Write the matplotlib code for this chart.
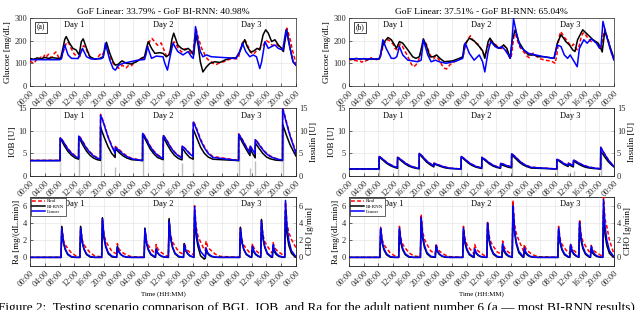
import matplotlib
matplotlib.use("Agg")
import matplotlib.pyplot as plt
import numpy as np

# ---------------- data (hours from start of simulation) ----------------
hour_ticks = list(range(0, 73, 4))
time_labels = ["00:00", "04:00", "08:00", "12:00", "16:00", "20:00",
               "00:00", "04:00", "08:00", "12:00", "16:00", "20:00",
               "00:00", "04:00", "08:00", "12:00", "16:00", "20:00", "00:00"]
titles = ["GoF Linear: 33.79% - GoF BI-RNN: 40.98%",
          "GoF Linear: 37.51% - GoF BI-RNN: 65.04%"]
panel_tags = ["(a)", "(b)"]
day_names = ["Day 1", "Day 2", "Day 3"]
day_pos = [12, 36, 60]

# Glucose (t [h], mg/dL)
gl_a_real = [(0,112),(0.5,105),(1,100),(1.5,110),(2,122),(2.5,118),(3,128),(3.5,122),(4,138),(4.5,130),(5,140),(5.5,125),(6,128),(6.5,142),(7,150),(7.5,135),(8,120),(8.5,125),(9,150),(9.5,175),(10,195),(10.5,190),(11,170),(11.5,155),(12,140),(12.5,135),(13,128),(13.5,130),(14,160),(14.5,178),(15,170),(15.5,150),(16,135),(16.5,125),(17,118),(18,120),(18.5,130),(19,140),(19.5,135),(20,150),(20.5,185),(21,160),(21.5,130),(22,115),(22.5,100),(23,92),(23.5,85),(24,78),(24.5,85),(25,92),(25.5,85),(26,80),(26.5,88),(27,92),(27.5,90),(28,100),(29,110),(30,118),(31,125),(31.5,150),(32,180),(32.5,200),(33,210),(33.5,200),(34,190),(34.5,180),(35,185),(35.5,190),(36,170),(36.5,150),(37,130),(37.5,135),(38,160),(38.5,185),(39,195),(39.5,185),(40,170),(40.5,160),(41,150),(41.5,155),(42,165),(42.5,160),(43,155),(43.5,145),(44,138),(44.5,200),(45,250),(45.5,215),(46,190),(46.5,165),(47,150),(47.5,130),(48,120),(48.5,112),(49,108),(49.5,100),(50,98),(50.5,95),(51,100),(52,105),(53,110),(54,118),(55,120),(56,120),(56.5,130),(57,165),(57.5,190),(58,205),(58.5,195),(59,175),(59.5,160),(60,145),(60.5,140),(61,150),(61.5,160),(62,165),(62.5,170),(63,175),(63.5,190),(64,200),(64.5,195),(65,190),(65.5,180),(66,180),(66.5,185),(67,180),(67.5,175),(68,170),(68.5,155),(69,200),(69.5,255),(70,230),(70.5,200),(71,160),(71.5,130),(72,100)]
gl_a_birnn = [(0,121),(1,118),(2,124),(3,120),(4,126),(5,122),(6,125),(7,123),(8.3,121),(8.9,165),(9.4,205),(9.8,218),(10.7,189),(11.6,166),(12.5,159),(13.3,137),(13.9,196),(14.4,208),(15.3,166),(16.2,129),(17.5,119),(18.9,122),(19.8,129),(20.7,193),(21.6,144),(22.5,107),(23.1,92),(23.8,95),(24.9,111),(26.1,100),(27.4,97),(28.8,107),(30.1,122),(31.0,129),(31.5,165),(32.0,196),(32.9,166),(33.8,144),(35.1,147),(36.0,144),(36.9,129),(37.8,140),(38.4,205),(38.9,233),(40.0,181),(41.0,166),(41.9,159),(42.8,166),(43.7,152),(44.3,137),(44.9,226),(45.5,181),(46.1,107),(46.8,62),(47.8,85),(48.7,100),(50.0,107),(51.4,104),(52.7,114),(54.0,122),(55.8,125),(56.8,152),(57.7,189),(58.1,204),(58.8,174),(59.7,149),(60.6,155),(61.5,166),(62.2,159),(63.1,226),(63.8,248),(64.5,233),(65.4,196),(66.3,204),(67.2,181),(68.1,166),(68.6,152),(69.0,200),(69.5,248),(70.4,166),(71.2,107),(72,92)]
gl_a_linear = [(0,116),(4,116),(8,116),(8.5,120),(8.9,150),(9.4,181),(10.3,137),(11.2,122),(13.0,121),(13.6,140),(14.2,166),(15.3,129),(16.6,119),(19.2,120),(19.8,125),(20.4,189),(21.6,114),(22.5,77),(23.1,70),(24.0,92),(25.2,100),(29.2,114),(31.0,117),(31.4,140),(31.8,174),(32.9,122),(34.2,132),(36.0,129),(36.5,100),(37.2,70),(37.8,120),(38.7,189),(40.0,152),(41.4,137),(42.8,152),(43.7,129),(44.2,122),(44.8,262),(45.5,196),(46.1,152),(46.8,129),(47.8,137),(49.1,129),(55.8,122),(56.8,152),(57.5,189),(58.4,152),(59.5,129),(60.4,137),(61.3,129),(62.2,77),(62.7,107),(63.6,196),(64.5,166),(65.4,174),(66.3,181),(67.2,166),(68.4,159),(69.3,248),(70.4,166),(71.2,107),(72,92)]

gl_b_real = [(0,118),(0.5,115),(1,120),(1.5,113),(2,112),(2.5,108),(3,110),(3.5,105),(4,112),(4.5,110),(5,115),(5.5,120),(6,125),(6.5,118),(7,115),(8,118),(8.5,125),(9,160),(9.5,185),(10,198),(10.5,205),(11,200),(11.5,192),(12,185),(12.5,165),(13,160),(13.5,175),(14,185),(14.5,175),(15,160),(15.5,145),(16,130),(16.5,110),(17,95),(17.5,85),(18,90),(18.5,100),(19,118),(19.5,150),(20,190),(20.5,200),(21,185),(21.5,160),(22,140),(22.5,125),(23,120),(23.5,132),(24,125),(24.5,115),(25,100),(25.5,85),(26,78),(26.5,75),(27,85),(27.5,95),(28,100),(29,110),(30,118),(31,130),(31.5,170),(32,195),(32.5,210),(33,222),(33.5,205),(34,198),(34.5,190),(35,185),(35.5,175),(36,160),(36.5,145),(37,135),(37.5,160),(38,190),(38.5,200),(39,195),(39.5,185),(40,180),(40.5,175),(41,168),(41.5,165),(42,180),(42.5,172),(43,150),(43.5,130),(44,120),(44.5,180),(45,245),(45.5,215),(46,190),(46.5,170),(47,160),(47.5,150),(48,140),(48.5,130),(49,125),(49.5,135),(50,145),(50.5,140),(51,130),(52,120),(53,115),(54,112),(55,110),(55.5,105),(56,100),(56.5,140),(57,210),(57.5,240),(58,228),(58.5,215),(59,205),(59.5,195),(60,180),(60.5,175),(61,185),(61.5,170),(62,160),(62.5,175),(63,210),(63.5,232),(64,235),(64.5,220),(65,210),(65.5,200),(66,195),(66.5,198),(67,195),(67.5,185),(68,170),(68.5,160),(69,215),(69.5,250),(70,225),(70.5,200),(71,165),(71.5,135),(72,115)]
gl_b_birnn = [(0,120),(1,117),(2,122),(3,118),(4,121),(5,116),(6,120),(7,118),(8.3,120),(9.0,170),(9.6,195),(10.6,214),(11.5,204),(12.4,181),(12.9,166),(13.7,196),(14.6,189),(16.0,159),(17.3,129),(18.2,122),(19.1,129),(19.6,160),(20.2,208),(21.1,174),(22.0,129),(22.9,129),(23.8,137),(24.7,122),(25.9,107),(28.2,111),(30.0,122),(30.9,129),(31.3,181),(32.7,211),(34.0,199),(35.4,174),(36.3,155),(36.9,122),(37.8,196),(38.3,211),(39.2,189),(40.1,174),(41.0,166),(42.0,181),(42.9,166),(43.8,122),(44.3,200),(45.2,248),(46.1,196),(47.5,159),(48.8,137),(50.2,137),(51.6,129),(53.0,129),(55.7,122),(56.6,189),(57.6,226),(58.3,211),(58.9,196),(59.9,181),(60.8,159),(61.4,152),(62.1,204),(63.5,248),(64.9,226),(66.3,204),(67.7,189),(68.4,166),(68.8,150),(69.5,244),(70.9,174),(72,122)]
gl_b_linear = [(0,120),(4,120),(8,119),(8.5,130),(9.2,204),(10.1,166),(11.5,122),(12.4,122),(13.0,130),(13.7,174),(14.6,137),(16.0,114),(18.7,107),(19.6,114),(20.2,204),(21.4,137),(22.3,107),(23.5,114),(24.5,107),(26.4,100),(29.1,110),(30.9,122),(31.6,189),(32.7,144),(34.0,114),(35.4,137),(36.3,107),(36.5,92),(36.9,62),(37.8,152),(38.5,196),(39.7,174),(40.6,166),(41.5,174),(42.4,159),(43.3,137),(43.8,122),(44.2,180),(44.7,297),(45.6,226),(46.5,174),(47.5,159),(48.8,144),(50.7,137),(53.0,129),(55.7,122),(56.6,181),(57.6,174),(58.5,137),(59.4,122),(60.1,137),(61.2,107),(62.0,85),(62.6,166),(63.8,204),(64.7,189),(65.8,208),(67.2,189),(68.1,166),(68.5,180),(69.0,285),(69.9,226),(70.9,166),(72,114)]

# IOB [U] on a shared time grid
t_iob = [0,
 8.15, 8.2, 8.7, 9.2, 10.2, 11.2, 12.2, 13.15,
 13.2, 13.7, 14.2, 15.2, 16.2, 17.2, 18.2, 19.05,
 19.1, 19.6, 20.1, 21.1, 22.1, 23.05,
 23.1, 23.6, 24.1, 25.1, 26.1, 27.5, 30.45,
 30.5, 31.0, 31.5, 32.5, 33.5, 34.5, 36.05,
 36.1, 36.6, 37.1, 38.1, 39.1, 40.1, 41.15,
 41.2, 41.7, 42.2, 43.2, 44.15,
 44.2, 44.7, 45.2, 46.2, 47.2, 48.2, 49.5, 56.45,
 56.5, 57.0, 57.5, 58.5, 59.55,
 59.6, 60.1, 60.95,
 61.0, 61.5, 62.0, 63.0, 64.0, 65.0, 66.5, 68.35,
 68.4, 68.9, 69.4, 70.4, 71.4, 72]
iob_a_real = [3.45,
 3.45, 8.5, 8.0, 7.4, 6.1, 5.2, 4.5, 4.0,
 8.9, 8.4, 7.75, 6.35, 5.35, 4.55, 4.05, 3.8,
 13.6, 12.6, 11.4, 8.8, 6.8, 5.1,
 6.5, 6.2, 5.85, 5.1, 4.5, 3.9, 3.45,
 9.5, 8.9, 8.25, 6.65, 5.55, 4.7, 3.95,
 9.0, 8.45, 7.85, 6.4, 5.35, 4.6, 4.1,
 6.7, 6.3, 5.95, 5.05, 4.45,
 12.1, 11.3, 10.3, 8.1, 6.5, 5.2, 4.3, 3.45,
 9.3, 8.7, 8.05, 6.55, 5.2,
 6.7, 6.0, 5.0,
 8.1, 7.6, 7.05, 5.95, 5.05, 4.45, 3.9, 3.5,
 15.0, 13.6, 12.0, 9.1, 6.7, 5.3]
iob_a_birnn = [3.4,
 3.4, 8.3, 7.6, 6.8, 5.5, 4.6, 4.0, 3.7,
 8.6, 7.8, 7.0, 5.6, 4.6, 3.95, 3.6, 3.45,
 10.8, 9.6, 8.5, 6.5, 5.0, 4.1,
 6.0, 5.6, 5.2, 4.5, 4.0, 3.6, 3.4,
 9.2, 8.4, 7.6, 6.0, 4.9, 4.1, 3.6,
 8.6, 7.8, 7.0, 5.6, 4.55, 3.9, 3.55,
 6.1, 5.6, 5.0, 4.1, 3.7,
 10.3, 9.3, 8.3, 6.3, 5.0, 4.2, 3.7, 3.4,
 9.0, 8.2, 7.4, 5.9, 4.5,
 6.1, 5.2, 4.0,
 7.3, 6.7, 6.1, 5.0, 4.2, 3.8, 3.5, 3.4,
 11.3, 10.2, 9.0, 6.9, 5.3, 4.4]
iob_a_linear = [3.4,
 3.4, 8.4, 7.9, 7.3, 6.0, 5.05, 4.35, 3.9,
 8.8, 8.26, 7.6, 6.2, 5.2, 4.4, 3.95, 3.7,
 13.4, 12.4, 11.2, 8.6, 6.6, 5.0,
 6.3, 6.0, 5.65, 4.9, 4.35, 3.8, 3.4,
 9.4, 8.8, 8.1, 6.5, 5.4, 4.55, 3.85,
 8.9, 8.35, 7.7, 6.25, 5.2, 4.45, 3.95,
 6.6, 6.2, 5.8, 4.9, 4.3,
 11.9, 11.05, 10.0, 7.8, 6.2, 5.0, 4.1, 3.4,
 9.2, 8.6, 7.9, 6.4, 5.1,
 6.6, 5.9, 4.9,
 8.0, 7.5, 6.9, 5.8, 4.9, 4.3, 3.8, 3.5,
 14.8, 13.3, 11.7, 8.8, 6.4, 5.0]
iob_b_real = [1.55,
 1.55, 4.35, 4.05, 3.75, 3.05, 2.55, 2.15, 1.9,
 4.15, 3.9, 3.6, 2.95, 2.45, 2.1, 1.85, 1.7,
 5.05, 4.65, 4.25, 3.35, 2.75, 2.25,
 2.85, 2.7, 2.55, 2.25, 2.0, 1.75, 1.55,
 4.35, 4.05, 3.75, 3.05, 2.55, 2.15, 1.8,
 4.15, 3.9, 3.6, 2.95, 2.45, 2.1, 1.85,
 2.85, 2.7, 2.55, 2.25, 2.05,
 4.95, 4.6, 4.25, 3.45, 2.8, 2.35, 1.95, 1.55,
 3.75, 3.55, 3.3, 2.75, 2.35,
 2.85, 2.65, 2.35,
 3.55, 3.35, 3.1, 2.65, 2.3, 2.05, 1.8, 1.6,
 6.35, 5.65, 4.95, 3.65, 2.65, 2.15]
iob_b_birnn = [1.55,
 1.55, 4.2, 3.85, 3.5, 2.8, 2.3, 1.95, 1.7,
 4.0, 3.7, 3.35, 2.7, 2.2, 1.9, 1.7, 1.6,
 4.85, 4.4, 3.95, 3.05, 2.45, 2.0,
 2.7, 2.5, 2.35, 2.05, 1.8, 1.65, 1.55,
 4.2, 3.85, 3.5, 2.8, 2.3, 1.95, 1.65,
 4.0, 3.7, 3.35, 2.7, 2.2, 1.9, 1.7,
 2.6, 2.4, 2.25, 1.95, 1.8,
 4.7, 4.3, 3.9, 3.1, 2.5, 2.1, 1.75, 1.55,
 3.6, 3.35, 3.05, 2.5, 2.1,
 2.6, 2.35, 2.0,
 3.3, 3.05, 2.8, 2.35, 2.0, 1.8, 1.65, 1.55,
 5.4, 4.9, 4.3, 3.2, 2.4, 2.0]
iob_b_linear = [1.55,
 1.55, 4.3, 4.0, 3.7, 3.0, 2.5, 2.1, 1.85,
 4.1, 3.85, 3.55, 2.9, 2.4, 2.05, 1.8, 1.65,
 5.0, 4.6, 4.2, 3.3, 2.7, 2.2,
 2.8, 2.65, 2.5, 2.2, 1.95, 1.7, 1.55,
 4.3, 4.0, 3.7, 3.0, 2.5, 2.1, 1.75,
 4.1, 3.85, 3.55, 2.9, 2.4, 2.05, 1.8,
 2.8, 2.65, 2.5, 2.2, 2.0,
 4.9, 4.55, 4.2, 3.4, 2.75, 2.3, 1.9, 1.55,
 3.7, 3.5, 3.25, 2.7, 2.3,
 2.8, 2.6, 2.3,
 3.5, 3.3, 3.05, 2.6, 2.25, 2.0, 1.75, 1.6,
 6.3, 5.6, 4.9, 3.6, 2.6, 2.1]

# Insulin boluses [U] (right axis)
bolus_t = [8.2, 13.2, 19.1, 23.1, 30.5, 36.1, 41.2, 44.2, 56.5, 59.6, 61.0, 68.4]
bolus_a = [5.0, 5.0, 9.8, 2.0, 6.0, 5.1, 2.9, 8.0, 5.8, 1.8, 3.2, 11.4]
bolus_b = [2.75, 2.45, 3.35, 0.85, 2.75, 2.35, 1.0, 2.9, 2.15, 0.7, 1.2, 4.7]

# Ra [mg/(dL.min)] on a shared time grid
t_ra = [0,
 8.4, 8.6, 9.0, 9.5, 10.2, 11.2, 12.4,
 13.5, 13.7, 14.1, 14.6, 15.3, 16.3, 17.5,
 19.4, 19.6, 20.0, 20.5, 21.2, 22.2,
 23.45, 23.65, 24.05, 24.55, 25.25, 26.25, 27.45,
 30.9, 31.1, 31.5, 32.0, 32.7, 33.7,
 33.95, 34.15, 34.55, 35.05, 35.75, 36.75,
 37.45, 37.65, 38.05, 38.55, 39.25, 40.25,
 41.55, 41.75, 42.15, 42.65, 43.35, 44.3,
 44.35, 44.55, 44.95, 45.45, 46.15, 47.15,
 47.45, 47.65, 48.05, 48.55, 49.25, 50.25, 51.45,
 56.75, 56.95, 57.35, 57.85, 58.55, 59.55,
 60.0, 60.2, 60.6, 61.1, 61.8, 62.4,
 62.45, 62.65, 63.05, 63.55, 64.25, 65.25,
 65.6, 65.8, 66.2, 66.7, 67.4, 68.4,
 68.95, 69.15, 69.55, 70.05, 70.75, 71.75, 72]
ra_a_real = [0,
 0, 3.5, 2.1, 1.47, 1.05, 0.53, 0.18,
 0.05, 3.5, 2.1, 1.47, 1.05, 0.53, 0.18,
 0.05, 4.5, 2.7, 1.9, 1.35, 0.68,
 0.4, 1.6, 1.0, 0.75, 0.5, 0.25, 0.08,
 0, 3.3, 2.0, 1.4, 1.0, 0.5,
 0.4, 1.5, 1.0, 0.75, 0.5, 0.22,
 0.1, 4.3, 2.6, 1.8, 1.3, 0.65,
 0.35, 1.7, 1.1, 0.8, 0.55, 0.3,
 0.3, 6.0, 3.6, 2.5, 1.8, 0.9,
 0.8, 1.9, 1.3, 1.0, 0.7, 0.35, 0.12,
 0, 3.4, 2.05, 1.43, 1.02, 0.5,
 0.45, 1.6, 1.1, 0.8, 0.55, 0.35,
 0.35, 4.3, 2.6, 1.8, 1.3, 0.65,
 0.5, 1.7, 1.15, 0.85, 0.6, 0.3,
 0.15, 6.4, 3.9, 2.9, 2.1, 1.3, 1.15]
ra_a_birnn = [0,
 0, 3.6, 1.8, 0.94, 0.32, 0.04, 0,
 0, 3.6, 1.8, 0.94, 0.32, 0.04, 0,
 0, 4.6, 2.3, 1.2, 0.41, 0.05,
 0, 1.3, 0.65, 0.34, 0.12, 0.01, 0,
 0, 3.4, 1.7, 0.88, 0.31, 0.03,
 0, 1.0, 0.5, 0.26, 0.09, 0.01,
 0, 4.5, 2.25, 1.17, 0.41, 0.05,
 0, 1.6, 0.8, 0.42, 0.14, 0.02,
 0, 5.0, 2.5, 1.3, 0.2, -0.2,
 -0.1, 0.9, 0.45, 0.23, 0.08, 0.01, 0,
 0, 3.5, 1.75, 0.91, 0.32, 0.04,
 0, 1.2, 0.6, 0.31, 0.11, 0.02,
 0, 4.4, 2.2, 1.14, 0.4, 0.04,
 0, 1.2, 0.6, 0.31, 0.11, 0.01,
 0, 5.4, 2.7, 1.4, 0.49, 0.05, 0.02]
ra_a_linear = [0,
 0, 3.4, 1.87, 1.02, 0.41, 0.1, 0,
 0, 3.4, 1.87, 1.02, 0.41, 0.1, 0,
 0, 4.5, 2.48, 1.35, 0.54, 0.14,
 0.02, 1.2, 0.66, 0.36, 0.14, 0.04, 0,
 0, 3.3, 1.82, 0.99, 0.4, 0.1,
 0.05, 1.0, 0.55, 0.3, 0.12, 0.03,
 0, 4.2, 2.31, 1.26, 0.5, 0.13,
 0, 1.5, 0.83, 0.45, 0.18, 0.05,
 0.02, 5.9, 3.25, 1.77, 0.71, 0.18,
 0.05, 1.1, 0.6, 0.33, 0.13, 0.03, 0,
 0, 3.3, 1.82, 0.99, 0.4, 0.1,
 0.05, 1.3, 0.72, 0.39, 0.16, 0.06,
 0.06, 4.2, 2.31, 1.26, 0.5, 0.13,
 0.05, 1.5, 0.83, 0.45, 0.18, 0.05,
 0.03, 6.6, 3.63, 1.98, 0.79, 0.2, 0.1]
ra_b_real = [0,
 0, 3.5, 2.1, 1.47, 1.05, 0.53, 0.18,
 0.05, 3.6, 2.16, 1.51, 1.08, 0.54, 0.18,
 0.05, 5.0, 3.0, 2.1, 1.5, 0.75,
 0.4, 1.6, 1.0, 0.75, 0.5, 0.25, 0.08,
 0, 3.6, 2.16, 1.51, 1.08, 0.54,
 0.35, 1.5, 1.0, 0.75, 0.5, 0.22,
 0.1, 4.2, 2.52, 1.76, 1.26, 0.63,
 0.35, 1.9, 1.2, 0.85, 0.6, 0.3,
 0.3, 6.6, 3.96, 2.77, 1.98, 0.99,
 0.7, 1.5, 1.0, 0.75, 0.5, 0.25, 0.08,
 0, 3.6, 2.16, 1.51, 1.08, 0.54,
 0.45, 1.6, 1.1, 0.8, 0.55, 0.35,
 0.35, 4.4, 2.64, 1.85, 1.32, 0.66,
 0.5, 1.4, 0.95, 0.7, 0.5, 0.25,
 0.1, 7.3, 4.4, 3.6, 2.0, 0.7, 0.4]
ra_b_birnn = [0,
 0, 3.3, 1.65, 0.86, 0.3, 0.03, 0,
 0, 3.3, 1.65, 0.86, 0.3, 0.03, 0,
 0, 4.5, 2.25, 1.17, 0.41, 0.05,
 0, 1.3, 0.65, 0.34, 0.12, 0.01, 0,
 0, 3.3, 1.65, 0.86, 0.3, 0.03,
 0, 0.9, 0.45, 0.23, 0.08, 0.01,
 0, 3.9, 1.95, 1.01, 0.35, 0.04,
 0, 1.3, 0.65, 0.34, 0.12, 0.01,
 0, 5.9, 2.95, 1.53, 0.53, 0.06,
 0, 0.9, 0.45, 0.23, 0.08, 0.01, 0,
 0, 3.3, 1.65, 0.86, 0.3, 0.03,
 0, 1.3, 0.65, 0.34, 0.12, 0.02,
 0, 3.9, 1.95, 1.01, 0.35, 0.04,
 0, 1.0, 0.5, 0.26, 0.09, 0.01,
 0, 5.3, 2.65, 1.38, 0.48, 0.05, 0.02]
ra_b_linear = [0,
 0, 3.4, 1.87, 1.02, 0.41, 0.1, 0,
 0, 3.4, 1.87, 1.02, 0.41, 0.1, 0,
 0, 4.65, 2.56, 1.4, 0.56, 0.14,
 0.02, 1.4, 0.77, 0.42, 0.17, 0.04, 0,
 0, 3.4, 1.87, 1.02, 0.41, 0.1,
 0.02, 1.0, 0.55, 0.3, 0.12, 0.03,
 0, 4.0, 2.2, 1.2, 0.48, 0.12,
 0.01, 1.6, 0.88, 0.48, 0.19, 0.05,
 0.02, 6.0, 3.3, 1.8, 0.72, 0.18,
 0.05, 1.1, 0.6, 0.33, 0.13, 0.03, 0,
 0, 3.4, 1.87, 1.02, 0.41, 0.1,
 0.05, 1.5, 0.83, 0.45, 0.18, 0.06,
 0.06, 4.1, 2.26, 1.23, 0.49, 0.12,
 0.04, 1.3, 0.72, 0.39, 0.16, 0.04,
 0.02, 6.7, 3.69, 2.01, 0.8, 0.2, 0.1]

# ---------------- style ----------------
plt.rcParams['font.family'] = ['Liberation Serif', 'DejaVu Serif']
plt.rcParams['axes.linewidth'] = 0.5
RED, BLACK, BLUE = '#ff0000', '#000000', '#0000ff'
SPINE = '#262626'
GRID = '#e6e6e6'

fig = plt.figure(figsize=(6.4, 3.1), dpi=100)
W, H = 640.0, 310.0
cols = [(30, 296), (349, 614)]
rows = {'glu': (18, 86), 'iob': (108, 176), 'ra': (197, 266)}


def new_ax(col, row):
    x0, x1 = cols[col]
    yt, yb = rows[row]
    return fig.add_axes([x0 / W, 1 - yb / H, (x1 - x0) / W, (yb - yt) / H])


def style(ax, ylim, yticks):
    ax.set_xlim(0, 72)
    ax.set_ylim(*ylim)
    ax.set_xticks(hour_ticks)
    ax.set_xticklabels(time_labels, rotation=45, ha='right', va='top',
                       rotation_mode='anchor', fontsize=5.3)
    ax.set_yticks(yticks)
    ax.tick_params(direction='in', length=2, width=0.5, labelsize=6, pad=2,
                   colors=SPINE)
    ax.grid(True, color=GRID, lw=0.5)
    ax.set_axisbelow(True)
    for s in ax.spines.values():
        s.set_color(SPINE)
        s.set_linewidth(0.5)


def right_axis(ax, ylim, yticks, label):
    tw = ax.twinx()
    tw.set_ylim(*ylim)
    tw.set_yticks(yticks)
    tw.tick_params(direction='in', length=2, width=0.5, labelsize=6, pad=2,
                   colors=SPINE)
    for s in tw.spines.values():
        s.set_color(SPINE)
        s.set_linewidth(0.5)
    tw.set_ylabel(label, fontsize=6.5, labelpad=2)
    ax.set_zorder(tw.get_zorder() + 1)
    ax.patch.set_visible(False)
    return tw


def series(pairs):
    t, v = zip(*pairs)
    return list(t), list(v)


gl_sets = [(gl_a_real, gl_a_birnn, gl_a_linear), (gl_b_real, gl_b_birnn, gl_b_linear)]
iob_sets = [(iob_a_real, iob_a_birnn, iob_a_linear), (iob_b_real, iob_b_birnn, iob_b_linear)]
ra_sets = [(ra_a_real, ra_a_birnn, ra_a_linear), (ra_b_real, ra_b_birnn, ra_b_linear)]
bolus_sets = [bolus_a, bolus_b]

for c in range(2):
    # ---- glucose
    ax = new_ax(c, 'glu')
    style(ax, (0, 300), [0, 100, 200, 300])
    real, bi, lin = gl_sets[c]
    ax.plot(*series(real), color=RED, ls=(0, (2.5, 1.5)), lw=1.1, zorder=3)
    ax.plot(*series(bi), color=BLACK, lw=1.1, zorder=4)
    ax.plot(*series(lin), color=BLUE, lw=1.1, zorder=5)
    ax.set_ylabel('Glucose [mg/dL]', fontsize=6.5, labelpad=1.5)
    ax.set_title(titles[c], fontsize=6.8, pad=3)
    for dn, dp in zip(day_names, day_pos):
        ax.text(dp, 268, dn, fontsize=6, ha='center', va='center')
    ax.text(3.0, 258, panel_tags[c], fontsize=5.5, ha='center', va='center',
            bbox=dict(boxstyle='square,pad=0.25', fc='white', ec=SPINE, lw=0.6))

    # ---- IOB
    ax = new_ax(c, 'iob')
    style(ax, (0, 15), [0, 5, 10, 15])
    tw = right_axis(ax, (0, 15), [0, 5, 10, 15], 'Insulin [U]')
    tw.vlines(bolus_t, 0, bolus_sets[c], color='#bdbdbd', lw=1.0)
    real, bi, lin = iob_sets[c]
    ax.plot(t_iob, real, color=RED, ls=(0, (2.5, 1.5)), lw=1.1, zorder=3)
    ax.plot(t_iob, bi, color=BLACK, lw=1.1, zorder=4)
    ax.plot(t_iob, lin, color=BLUE, lw=1.1, zorder=5)
    ax.set_ylabel('IOB [U]', fontsize=6.5, labelpad=1.5)
    for dn, dp in zip(day_names, day_pos):
        ax.text(dp, 13.3, dn, fontsize=6, ha='center', va='center')

    # ---- Ra
    ax = new_ax(c, 'ra')
    style(ax, (-1, 7), [0, 2, 4, 6])
    tw = right_axis(ax, (-1, 7), [0, 2, 4, 6], 'CHO [g/min]')
    real, bi, lin = ra_sets[c]
    ax.plot(t_ra, real, color=RED, ls=(0, (2.5, 1.5)), lw=1.1, zorder=3, label='Real')
    ax.plot(t_ra, bi, color=BLACK, lw=1.1, zorder=4, label='BI-RNN')
    ax.plot(t_ra, lin, color=BLUE, lw=1.1, zorder=5, label='Linear')
    ax.set_ylabel('Ra [mg/(dL.min)]', fontsize=6.5, labelpad=1.5)
    ax.set_xlabel('Time (HH:MM)', fontsize=5, labelpad=2)
    for dn, dp in zip(day_names, day_pos):
        ax.text(dp, 6.2, dn, fontsize=6, ha='center', va='center')
    leg = ax.legend(loc='upper left', fontsize=3.6, handlelength=2.6,
                    borderpad=0.3, labelspacing=0.15, handletextpad=0.4,
                    frameon=True, fancybox=False, framealpha=1,
                    edgecolor=SPINE, borderaxespad=0.1)
    leg.get_frame().set_linewidth(0.5)
    leg.set_zorder(10)

fig.text(-0.003, 1 - 302 / H,
         "Figure 2:  Testing scenario comparison of BGL, IOB, and Ra for the adult patient number 6 (a \u2014 most BI-RNN results)",
         fontsize=9.5, ha='left', va='top')

fig.savefig('out.png', dpi=100)
